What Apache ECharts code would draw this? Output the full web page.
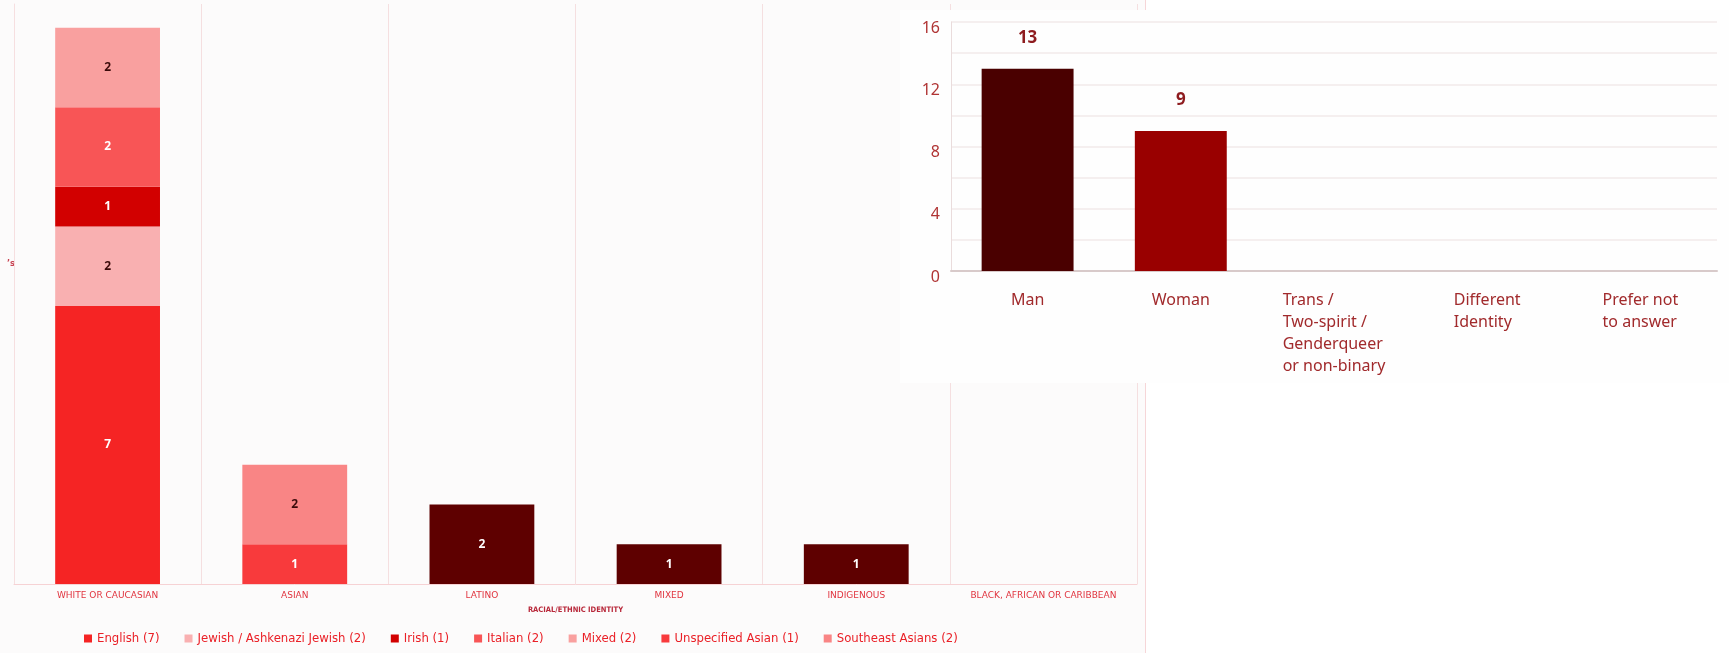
<!DOCTYPE html>
<html>
<head>
<meta charset="utf-8">
<script src="https://cdn.jsdelivr.net/npm/echarts@6/dist/echarts.min.js"></script>
<style>
  html, body { margin: 0; padding: 0; background: #ffffff; }
  #leftbg { position: absolute; left: 0; top: 0; width: 1145px; height: 653px; background: #fcfbfb; }
  #left { position: absolute; left: 0; top: 0; width: 1729px; height: 653px; }
  #right { position: absolute; left: 900px; top: 10px; width: 829px; height: 373px; background: #fefefe; }
</style>
</head>
<body>
<div id="leftbg"></div>
<div id="left"></div>
<div id="right"></div>
<script>
// ---------- Left chart data (racial / ethnic identity) ----------
const ethnicCategories = ['WHITE OR CAUCASIAN', 'ASIAN', 'LATINO', 'MIXED', 'INDIGENOUS', 'BLACK, AFRICAN OR CARIBBEAN'];
const englishValues      = [7, null, null, null, null, null];
const jewishValues       = [2, null, null, null, null, null];
const irishValues        = [1, null, null, null, null, null];
const italianValues      = [2, null, null, null, null, null];
const mixedWhiteValues   = [2, null, null, null, null, null];
const unspecAsianValues  = [null, 1, null, null, null, null];
const seAsianValues      = [null, 2, null, null, null, null];
const otherValues        = [null, null, 2, 1, 1, null];
const ethnicSeriesNames  = ['English (7)', 'Jewish / Ashkenazi Jewish (2)', 'Irish (1)', 'Italian (2)', 'Mixed (2)', 'Unspecified Asian (1)', 'Southeast Asians (2)'];

// ---------- Right chart data (gender identity) ----------
const genderCategories = ['Man', 'Woman', 'Trans /\nTwo-spirit /\nGenderqueer\nor non-binary', 'Different\nIdentity', 'Prefer not\nto answer'];
const genderValues = [13, 9, 0, 0, 0];
const genderTicks = [0, 4, 8, 12, 16];

// ---------- Left chart ----------
const leftChart = echarts.init(document.getElementById('left'));
const segStyles = [
  { data: englishValues,     color: '#f52424', text: '#ffffff' },
  { data: jewishValues,      color: '#f9b0b1', text: '#3a0a0a' },
  { data: irishValues,       color: '#d20000', text: '#ffffff' },
  { data: italianValues,     color: '#f85556', text: '#ffffff' },
  { data: mixedWhiteValues,  color: '#f9a09f', text: '#3a0a0a' },
  { data: unspecAsianValues, color: '#f83a3c', text: '#ffffff' },
  { data: seAsianValues,     color: '#f98585', text: '#3a0a0a' }
];
const leftSeries = segStyles.map((s, i) => ({
  name: ethnicSeriesNames[i],
  type: 'bar',
  stack: 'eth',
  barWidth: '56%',
  data: s.data,
  itemStyle: { color: s.color },
  label: {
    show: true, position: 'inside', color: s.text,
    fontFamily: 'Open Sans', fontWeight: 'bold', fontSize: 12
  }
}));
leftSeries.push({
  name: 'Other',
  type: 'bar',
  stack: 'eth',
  barWidth: '56%',
  data: otherValues,
  itemStyle: { color: '#5e0000' },
  label: { show: true, position: 'inside', color: '#ffffff', fontFamily: 'Open Sans', fontWeight: 'bold', fontSize: 12 }
});

leftChart.setOption({
  animation: false,
  backgroundColor: 'transparent',
  grid: { left: 14, right: 1729 - 1137, top: 4, bottom: 653 - 584 },
  legend: {
    data: ethnicSeriesNames,
    left: 79, top: 627,
    itemWidth: 8, itemHeight: 8, itemGap: 25,
    icon: 'rect',
    textStyle: { color: '#ea2027', fontFamily: 'DejaVu Sans Condensed', fontSize: 13 }
  },
  xAxis: {
    type: 'category',
    data: ethnicCategories,
    name: 'RACIAL/ETHNIC IDENTITY',
    nameLocation: 'middle',
    nameGap: 22,
    nameTextStyle: { color: '#b8283a', fontFamily: 'DejaVu Sans Condensed', fontWeight: 'bold', fontSize: 7.5 },
    axisLine: { show: true, lineStyle: { color: '#f6d2d4', width: 1 } },
    axisTick: { show: false },
    axisLabel: { interval: 0, color: '#e0343f', fontFamily: 'DejaVu Sans', fontSize: 9, margin: 7 },
    splitLine: { show: true, interval: 0, lineStyle: { color: '#f5dfe0', width: 1 } }
  },
  yAxis: {
    type: 'value',
    min: 0, max: 14.6,
    axisLine: { show: true, lineStyle: { color: '#f6dfe0' } },
    axisLabel: { show: false },
    axisTick: { show: false },
    splitLine: { show: false }
  },
  graphic: [
    { type: 'line', shape: { x1: 1145.5, y1: 0, x2: 1145.5, y2: 653 }, style: { stroke: '#f6d6d8', lineWidth: 1 } },
    { type: 'text', left: 7, top: 260, style: { text: '’s', fill: '#c84050', font: 'bold 8px DejaVu Sans' } }
  ],
  series: leftSeries
});

// ---------- Right chart ----------
const rightChart = echarts.init(document.getElementById('right'));
const genderColors = ['#4a0000', '#990000', '#990000', '#990000', '#990000'];
const labelFont = 'Noto Sans';
rightChart.setOption({
  animation: false,
  backgroundColor: 'transparent',
  grid: { left: 51, right: 12, top: 12, bottom: 112 },
  xAxis: {
    type: 'category',
    data: genderCategories,
    axisLine: { show: true, lineStyle: { color: '#d8caca', width: 2 } },
    axisTick: { show: false },
    axisLabel: {
      interval: 0,
      margin: 18,
      formatter: v => v.split('\n').map(l => '{a|' + l + '}').join('\n'),
      rich: { a: { align: 'left', color: '#a12a2c', fontFamily: labelFont, fontSize: 16, lineHeight: 22 } }
    }
  },
  yAxis: {
    type: 'value',
    min: genderTicks[0], max: genderTicks[genderTicks.length - 1], interval: 4,
    axisLine: { show: true, lineStyle: { color: '#eadcdc', width: 1 } },
    axisTick: { show: false },
    axisLabel: { color: '#b03434', fontFamily: labelFont, fontSize: 16, margin: 11, verticalAlign: 'top', lineHeight: 12 },
    splitLine: { show: true, lineStyle: { color: '#f2eaea', width: 1.5 } },
    minorTick: { show: false, splitNumber: 2 },
    minorSplitLine: { show: true, lineStyle: { color: '#f2eaea', width: 1.5 } }
  },
  series: [{
    type: 'bar',
    barWidth: '60%',
    data: genderValues,
    itemStyle: { color: p => genderColors[p.dataIndex] },
    label: {
      show: true, position: 'top', distance: 22,
      formatter: p => (p.value ? String(p.value) : ''),
      color: '#8e1c1f', fontFamily: labelFont, fontWeight: 'bold', fontSize: 17
    }
  }]
});
</script>
</body>
</html>
